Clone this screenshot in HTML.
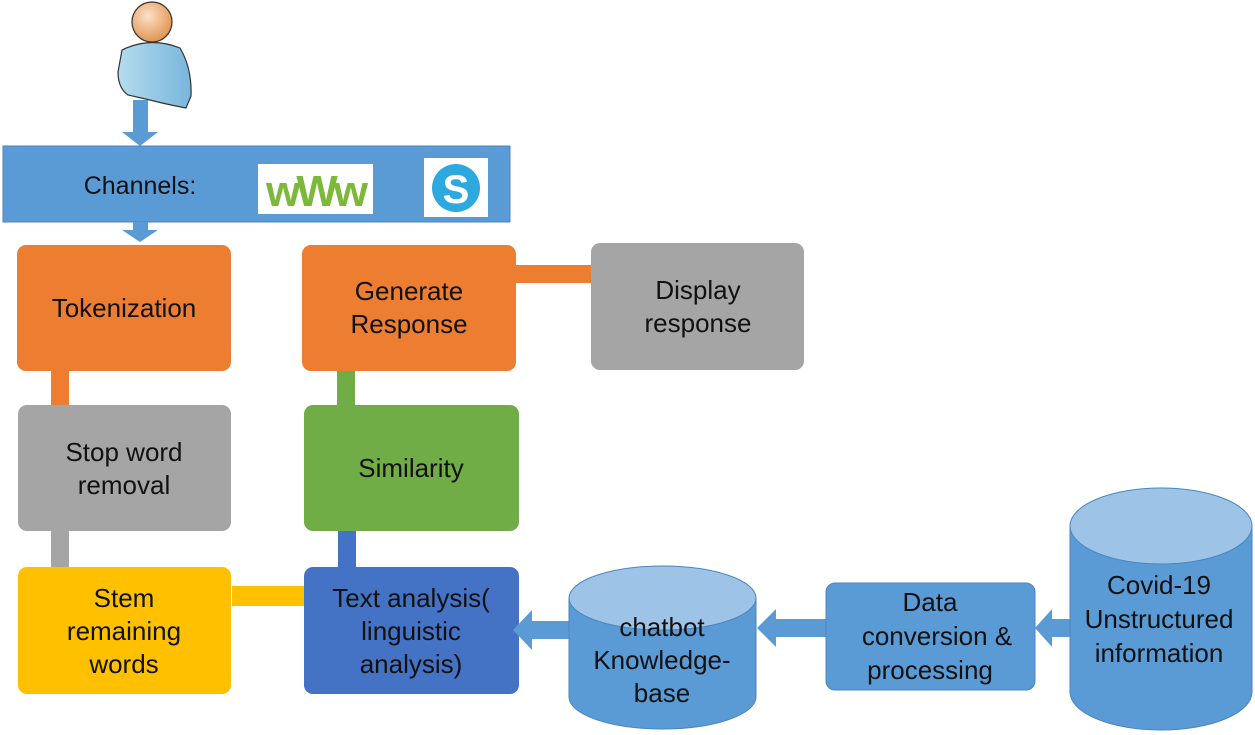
<!DOCTYPE html>
<html><head><meta charset="utf-8"><style>
html,body{margin:0;padding:0;background:#fff;}
svg{display:block;}
text{font-family:"Liberation Sans",sans-serif;font-size:26px;fill:#111;text-anchor:middle;}
</style></head><body>
<svg width="1255" height="735" viewBox="0 0 1255 735" xmlns="http://www.w3.org/2000/svg">
<defs>
<radialGradient id="hd" cx="0.4" cy="0.35" r="0.7"><stop offset="0" stop-color="#fde0c8"/><stop offset="1" stop-color="#e0904a"/></radialGradient>
<linearGradient id="bd" x1="0" x2="1"><stop offset="0" stop-color="#b5dcef"/><stop offset="1" stop-color="#78b6dc"/></linearGradient>
</defs>
<!-- person -->
<path d="M122 50 Q150 36 180 48 Q192 68 191 96 L186 108 Q165 104 150 100 L128 95 Q118 88 118 72 Z" fill="url(#bd)" stroke="#333" stroke-width="1.2"/>
<circle cx="152" cy="22" r="20" fill="url(#hd)" stroke="#333" stroke-width="1.2"/>
<!-- arrow down 1 -->
<rect x="133" y="100" width="15" height="32" fill="#5b9bd5"/>
<polygon points="122,132 158,132 140,146" fill="#5b9bd5"/>
<!-- channels bar -->
<rect x="3" y="146" width="507" height="76" fill="#5b9bd5" stroke="#4a86c0" stroke-width="1"/>
<text x="140" y="194" style="font-size:25px">Channels:</text>
<rect x="258" y="164" width="115" height="50" fill="#fff"/>
<text x="315" y="206" style="font-size:44px;font-weight:bold;fill:#7cb93a;letter-spacing:-4px">wWw</text>
<rect x="424" y="158" width="64" height="59" fill="#fff"/>
<circle cx="456" cy="188" r="24" fill="#2ea9e0"/>
<text x="456" y="203" style="font-size:40px;font-weight:bold;fill:#fff">S</text>
<!-- arrow down 2 -->
<rect x="133" y="222" width="15" height="10" fill="#5b9bd5"/>
<polygon points="122,230 158,230 140,242" fill="#5b9bd5"/>
<!-- connectors -->
<rect x="51" y="371" width="18" height="35" fill="#ed7d31"/>
<rect x="51" y="531" width="18" height="36" fill="#a5a5a5"/>
<rect x="232" y="586" width="72" height="20" fill="#ffc000"/>
<rect x="338" y="531" width="18" height="36" fill="#4472c4"/>
<rect x="337" y="371" width="18" height="35" fill="#70ad47"/>
<rect x="516" y="265" width="76" height="18" fill="#ed7d31"/>
<!-- boxes -->
<rect x="17" y="245" width="214" height="126" rx="9" fill="#ed7d31"/>
<text x="124" y="317">Tokenization</text>
<rect x="18" y="405" width="213" height="126" rx="9" fill="#a5a5a5"/>
<text x="124" y="461">Stop word</text><text x="124" y="494">removal</text>
<rect x="18" y="567" width="213" height="127" rx="9" fill="#ffc000"/>
<text x="124" y="607">Stem</text><text x="124" y="640">remaining</text><text x="124" y="673">words</text>
<rect x="304" y="567" width="215" height="127" rx="9" fill="#4472c4"/>
<text x="411" y="607">Text analysis(</text><text x="411" y="640">linguistic</text><text x="411" y="673">analysis)</text>
<rect x="304" y="405" width="215" height="126" rx="9" fill="#70ad47"/>
<text x="411" y="477">Similarity</text>
<rect x="302" y="245" width="214" height="126" rx="9" fill="#ed7d31"/>
<text x="409" y="300">Generate</text><text x="409" y="333">Response</text>
<rect x="591" y="243" width="213" height="127" rx="9" fill="#a5a5a5"/>
<text x="698" y="299">Display</text><text x="698" y="332">response</text>
<!-- arrows left -->
<rect x="1048" y="619" width="24" height="18" fill="#5b9bd5"/>
<polygon points="1035,628 1052,609 1052,647" fill="#5b9bd5"/>
<rect x="772" y="619" width="56" height="18" fill="#5b9bd5"/>
<polygon points="757,628 776,609 776,647" fill="#5b9bd5"/>
<rect x="530" y="621" width="42" height="18" fill="#5b9bd5"/>
<polygon points="513,630 532,610 532,650" fill="#5b9bd5"/>
<!-- chatbot cylinder -->
<path d="M569 598 L569 697 A93.5 32 0 0 0 756 697 L756 598 Z" fill="#5b9bd5" stroke="#4a86c0"/>
<ellipse cx="662.5" cy="598" rx="93.5" ry="32" fill="#9dc3e6" stroke="#4a86c0"/>
<text x="662" y="636">chatbot</text><text x="662" y="669">Knowledge-</text><text x="662" y="702">base</text>
<!-- data box -->
<rect x="826" y="583" width="209" height="107" rx="9" fill="#5b9bd5" stroke="#4a86c0"/>
<text x="930" y="611">Data</text><text x="937" y="645">conversion &amp;</text><text x="930" y="679">processing</text>
<!-- covid cylinder -->
<path d="M1070 526 L1070 692 A91 38 0 0 0 1252 692 L1252 526 Z" fill="#5b9bd5" stroke="#4a86c0"/>
<ellipse cx="1161" cy="526" rx="91" ry="38" fill="#9dc3e6" stroke="#4a86c0"/>
<text x="1159" y="594">Covid-19</text><text x="1159" y="628">Unstructured</text><text x="1159" y="662">information</text>
</svg>
</body></html>
